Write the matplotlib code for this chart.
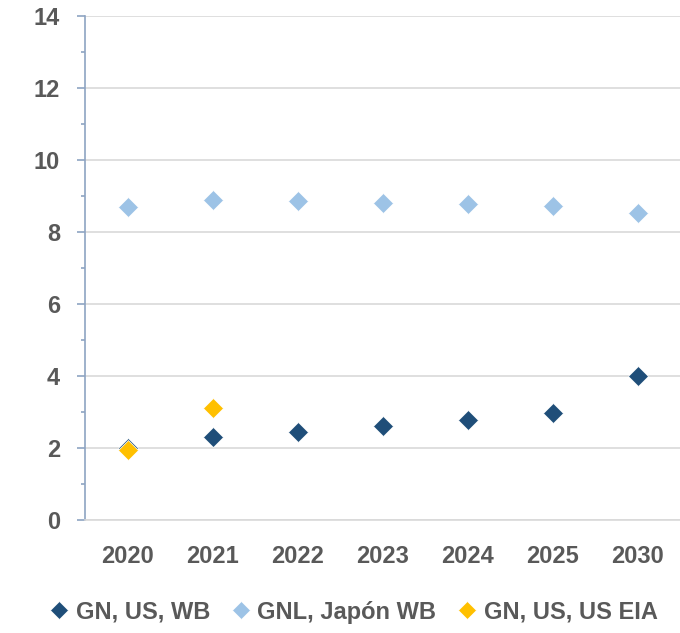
import numpy as np
import matplotlib.pyplot as plt
from matplotlib.ticker import MultipleLocator

plt.rcParams['font.family'] = ['Liberation Sans', 'DejaVu Sans']
plt.rcParams['font.weight'] = 'bold'

years = ["2020", "2021", "2022", "2023", "2024", "2025", "2030"]
gn_us_wb = [2.0, 2.3, 2.44, 2.61, 2.78, 2.97, 4.0]
gnl_japon_wb = [8.69, 8.89, 8.86, 8.81, 8.78, 8.72, 8.53]
gn_us_eia = [1.94, 3.11]

x = np.arange(len(years)) + 0.5

fig = plt.figure(figsize=(6.8, 6.33), dpi=100)
ax = fig.add_axes([85/680, 1 - 520/633, 595/680, 504/633])

ax.plot(x, gn_us_wb, 'D', color="#1F4E79", ms=10, mec="white", mew=0.5, label="GN, US, WB", zorder=3)
ax.plot(x, gnl_japon_wb, 'D', color="#9DC3E6", ms=10, mec="white", mew=0.5, label="GNL, Japón WB", zorder=3)
ax.plot(x[:len(gn_us_eia)], gn_us_eia, 'D', color="#FFC000", ms=10, mec="white", mew=0.5, label="GN, US, US EIA", zorder=4)

ax.set_xlim(0, 7)
ax.set_ylim(0, 14)
ax.set_xticks(x)
ax.set_xticklabels(years)
ax.yaxis.set_major_locator(MultipleLocator(2))
ax.yaxis.set_minor_locator(MultipleLocator(1))
ax.grid(axis="y", color="#D9D9D9", lw=1.2, zorder=0)

for s in ["top", "right"]:
    ax.spines[s].set_visible(False)
ax.spines["left"].set_color("#8EA4C2")
ax.spines["left"].set_linewidth(1.2)
ax.spines["bottom"].set_color("#D9D9D9")
ax.spines["bottom"].set_linewidth(1.2)

ax.tick_params(axis="y", which="major", length=6, color="#8EA4C2", width=1.2, pad=12,
               labelsize=17, labelcolor="#595959")
ax.tick_params(axis="y", which="minor", length=3, color="#8EA4C2", width=1.2)
ax.tick_params(axis="x", length=0, pad=18, labelsize=17, labelcolor="#595959")

leg = fig.legend(loc="center", bbox_to_anchor=(0.52, 1 - 612/633), ncol=3, frameon=False,
                 fontsize=17, handlelength=0.8, handletextpad=0.3, columnspacing=0.9,
                 markerscale=0.9, labelcolor="#595959")

fig.savefig("out.png", dpi=100)
